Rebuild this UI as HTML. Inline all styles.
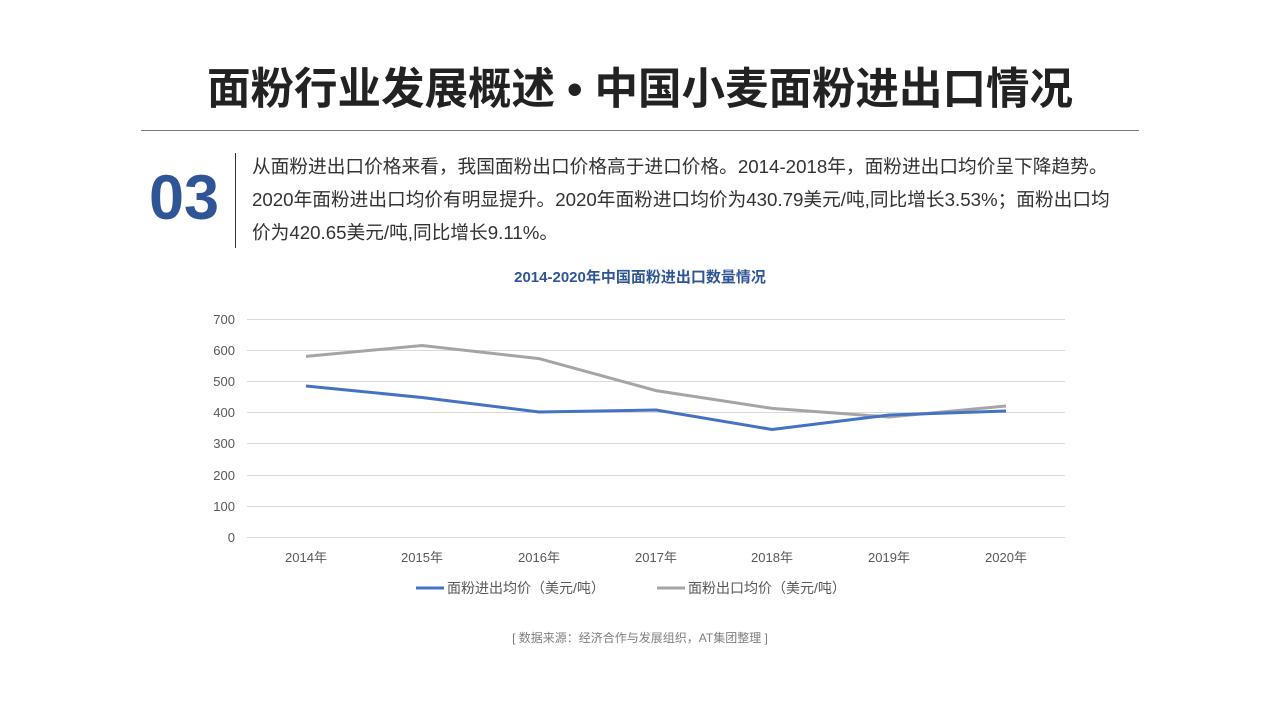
<!DOCTYPE html><html><head><meta charset="utf-8"><style>
body{margin:0;width:1280px;height:720px;background:#fff;position:relative;overflow:hidden;font-family:"Liberation Sans","Noto Sans CJK SC",sans-serif}
.a{position:absolute;white-space:nowrap}
</style></head><body>
<div class="a" style="left:0;width:1280px;text-align:center;top:62px;font-size:43.5px;font-weight:bold;color:#222;line-height:56px">面粉行业发展概述 • 中国小麦面粉进出口情况</div>
<div class="a" style="left:141px;top:130px;width:998px;height:1px;background:#777"></div>
<div class="a" style="left:149px;top:162px;font-size:63px;font-weight:bold;color:#2F5597;line-height:72px">03</div>
<div class="a" style="left:235px;top:153px;width:1px;height:95px;background:#333"></div>
<div class="a" style="left:252px;top:150px;font-size:18.7px;color:#333;line-height:33px">从面粉进出口价格来看，我国面粉出口价格高于进口价格。2014-2018年，面粉进出口均价呈下降趋势。<br>2020年面粉进出口均价有明显提升。2020年面粉进口均价为430.79美元/吨,同比增长3.53%；面粉出口均<br>价为420.65美元/吨,同比增长9.11%。</div>
<div class="a" style="left:0;width:1280px;text-align:center;top:266px;font-size:15px;font-weight:bold;color:#2F5597">2014-2020年中国面粉进出口数量情况</div>
<svg class="a" style="left:0;top:0" width="1280" height="720">
<g stroke="#d9d9d9" stroke-width="1">
<line x1="247" x2="1065" y1="319.5" y2="319.5"/><line x1="247" x2="1065" y1="350.5" y2="350.5"/><line x1="247" x2="1065" y1="381.5" y2="381.5"/><line x1="247" x2="1065" y1="412.5" y2="412.5"/><line x1="247" x2="1065" y1="443.5" y2="443.5"/><line x1="247" x2="1065" y1="475.5" y2="475.5"/><line x1="247" x2="1065" y1="506.5" y2="506.5"/><line x1="247" x2="1065" y1="537.5" y2="537.5"/></g>
<g font-size="13" fill="#595959" text-anchor="end" font-family="Liberation Sans,sans-serif">
<text x="235" y="324">700</text><text x="235" y="355">600</text><text x="235" y="386">500</text><text x="235" y="417">400</text><text x="235" y="448">300</text><text x="235" y="480">200</text><text x="235" y="511">100</text><text x="235" y="542">0</text></g>
<g font-size="13" fill="#595959" text-anchor="middle" font-family="Liberation Sans,Noto Sans CJK SC,sans-serif">
<text x="306" y="562">2014年</text><text x="422" y="562">2015年</text><text x="539" y="562">2016年</text><text x="656" y="562">2017年</text><text x="772" y="562">2018年</text><text x="889" y="562">2019年</text><text x="1006" y="562">2020年</text></g>
<polyline fill="none" stroke="#A5A5A5" stroke-width="3" points="306,356.4 422,345.5 539,358.6 656,390.6 772,408.4 889,417 1006,406"/>
<polyline fill="none" stroke="#4472C4" stroke-width="3" points="306,386 422,397.5 539,412 656,410 772,429.5 889,415 1006,411"/>
<line x1="416" x2="444" y1="588" y2="588" stroke="#4472C4" stroke-width="3"/>
<line x1="657" x2="685" y1="588" y2="588" stroke="#A5A5A5" stroke-width="3"/>
<g font-size="14" fill="#595959" font-family="Liberation Sans,Noto Sans CJK SC,sans-serif">
<text x="447" y="593">面粉进出均价（美元/吨）</text><text x="688" y="593">面粉出口均价（美元/吨）</text></g>
</svg>
<div class="a" style="left:0;width:1280px;text-align:center;top:629px;font-size:12px;color:#7f7f7f">[ 数据来源：经济合作与发展组织，AT集团整理 ]</div>
</body></html>
